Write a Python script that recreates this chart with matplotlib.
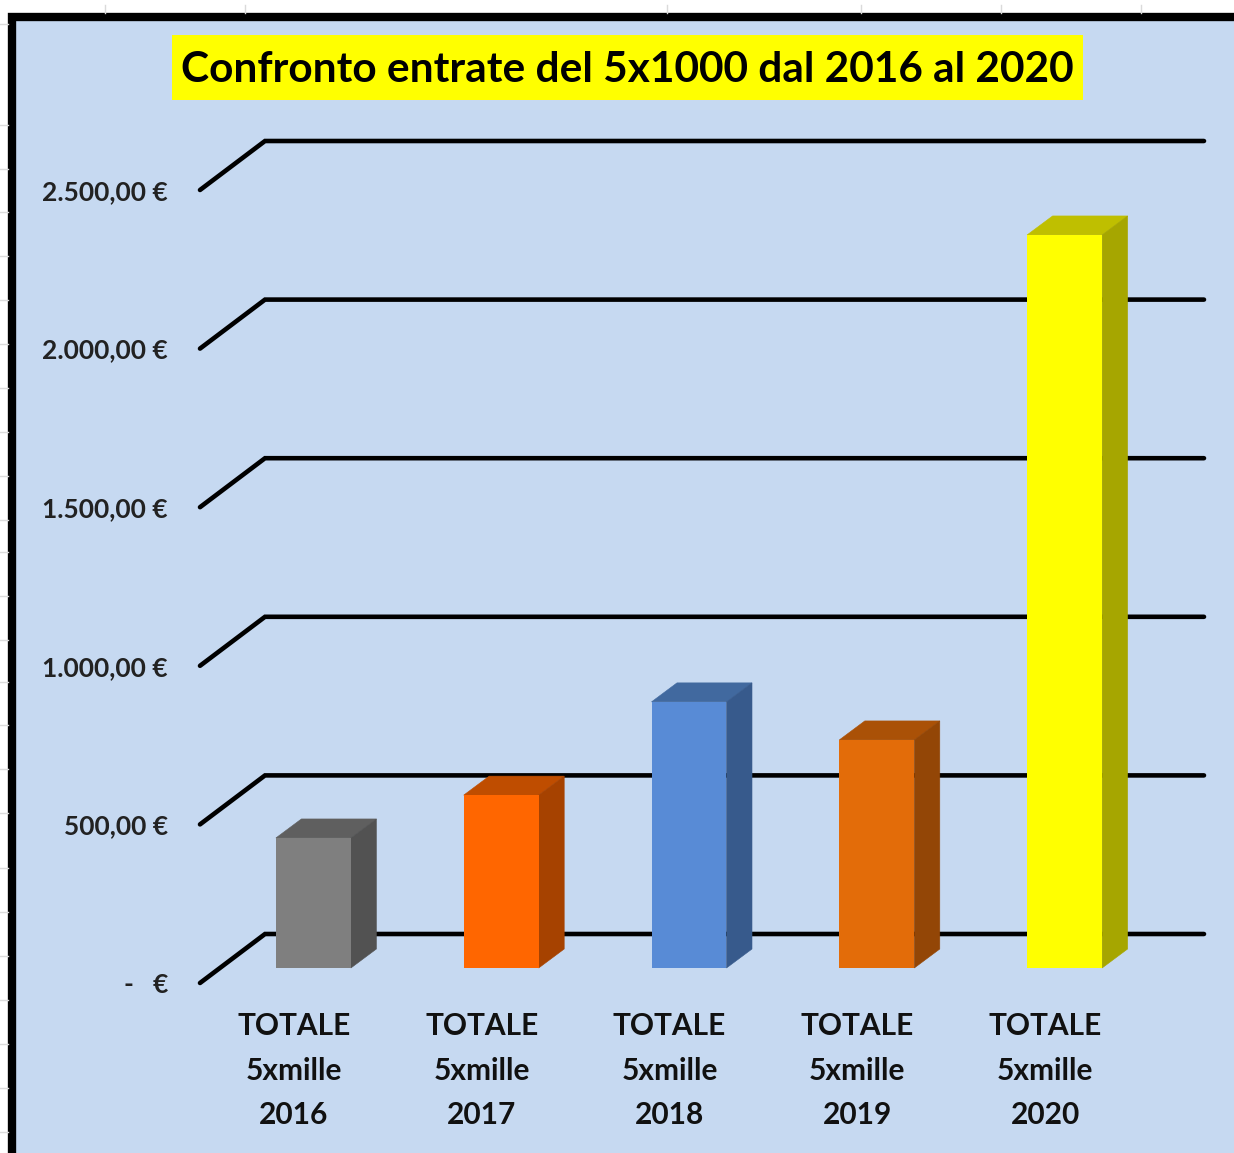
import matplotlib
matplotlib.use("Agg")
import matplotlib.pyplot as plt
from matplotlib.patches import Polygon, Rectangle
from matplotlib.transforms import offset_copy

plt.rcParams['font.family'] = ['Lato', 'DejaVu Sans']

# --- data ---
categories = ["TOTALE\n5xmille\n2016", "TOTALE\n5xmille\n2017", "TOTALE\n5xmille\n2018",
              "TOTALE\n5xmille\n2019", "TOTALE\n5xmille\n2020"]
values = [410, 545, 839, 719, 2311]
ticks = [0, 500, 1000, 1500, 2000, 2500]
tick_labels = ["-   €", "500,00 €", "1.000,00 €", "1.500,00 €", "2.000,00 €", "2.500,00 €"]
title = "Confronto entrate del 5x1000 dal 2016 al 2020"
front_colors = ["#7F7F7F", "#FF6600", "#588BD6", "#E36C09", "#FFFF00"]
top_colors = ["#5F5F5F", "#BF4D00", "#41699F", "#AA5107", "#BFBF00"]
side_colors = ["#525252", "#A64200", "#375A8C", "#934606", "#A6A600"]

W, H = 1234, 1153
PLOT_L, PLOT_R = 200, 1139      # front plane, pixels
ZERO_Y, TOP_Y = 983, 190        # front plane, pixels at 0 and 2500
BG = "#C6D9F1"

fig = plt.figure(figsize=(W / 100, H / 100), dpi=100, facecolor="white")

# Spreadsheet remnants behind the chart
bgax = fig.add_axes([0, 0, 1, 1], zorder=0)
bgax.set_xlim(0, W)
bgax.set_ylim(H, 0)
bgax.axis("off")
sheet_rows = [24, 125, 169, 212, 256, 300, 344, 388, 432, 476, 520, 552, 596, 640, 682, 725, 769,
              813, 868, 912, 956, 1000, 1044, 1088, 1132]
for yy in sheet_rows:
    bgax.plot([0, 8], [yy, yy], color="#DADADA", lw=1)
for xx in [105, 245, 667, 861, 1001, 1141]:
    bgax.plot([xx, xx], [5, 13], color="#DADADA", lw=1)
bgax.add_patch(Rectangle((11.5, 16.5), W + 40, H + 40, facecolor=BG, edgecolor="black", lw=6.0, joinstyle="miter"))

# Value axes: front plane of the 3D box
ax = fig.add_axes([PLOT_L / W, 1 - ZERO_Y / H, (PLOT_R - PLOT_L) / W, (ZERO_Y - TOP_Y) / H], zorder=1)
ax.patch.set_alpha(0)
ax.set_xlim(-0.5, 4.5)
ax.set_ylim(0, 2500)
for s in ax.spines.values():
    s.set_visible(False)

px_x = (PLOT_R - PLOT_L) / 5        # pixels per category
px_y = (ZERO_Y - TOP_Y) / 2500      # pixels per value unit

# Gridlines: side wall then back wall
wall_dx, wall_dy = 65 / px_x, 49 / px_y
for t in ticks:
    ax.plot([-0.5, -0.5 + wall_dx, 4.5 + wall_dx], [t, t + wall_dy, t + wall_dy],
            color="black", lw=3.3, clip_on=False, solid_capstyle="round",
            solid_joinstyle="miter", zorder=1)

# Bars sit part-way into the floor
shifted = offset_copy(ax.transData, fig=fig, x=19.5, y=15, units="dots")
bar_w = 75 / px_x
dep_x, dep_y = 25.5 / px_x, 19 / px_y
for i, v in enumerate(values):
    ax.bar(i, v, width=bar_w, color=front_colors[i], transform=shifted, clip_on=False, zorder=3.2)
    l, r = i - bar_w / 2, i + bar_w / 2
    ax.add_patch(Polygon([(l, v), (r, v), (r + dep_x, v + dep_y), (l + dep_x, v + dep_y)],
                         closed=True, facecolor=top_colors[i], edgecolor=top_colors[i], lw=0.4,
                         transform=shifted, clip_on=False, zorder=3))
    ax.add_patch(Polygon([(r, 0), (r + dep_x, dep_y), (r + dep_x, v + dep_y), (r, v)],
                         closed=True, facecolor=side_colors[i], edgecolor=side_colors[i], lw=0.4,
                         transform=shifted, clip_on=False, zorder=3))

ax.set_yticks(ticks, tick_labels, fontsize=19, fontweight="bold", color="#222222")
ax.tick_params(axis="y", length=0, pad=23)
for lab in ax.get_yticklabels():
    lab.set_y(lab.get_position()[1])
ax.set_xticks(range(5), categories, fontsize=21.5, fontweight="bold", color="#111111",
              linespacing=1.72)
ax.tick_params(axis="x", length=0, pad=21)

# Title with yellow band
bgax.add_patch(Rectangle((172, 35), 911, 65, facecolor="#FFFF00", edgecolor="none", zorder=5))
bgax.text(627, 69.5, title, ha="center", va="center", fontsize=30.5, fontweight="bold",
          color="black", zorder=6)

fig.savefig("out.png", dpi=100)
